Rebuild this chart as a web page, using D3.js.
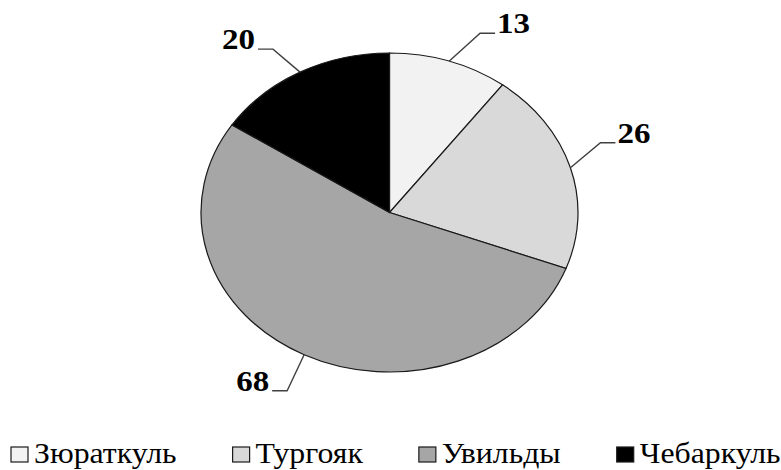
<!DOCTYPE html>
<html>
<head>
<meta charset="utf-8">
<script src="https://cdn.jsdelivr.net/npm/d3@7"></script>
<style>
  body { margin: 0; background: #fff; }
  text { font-family: "Liberation Serif", "Times New Roman", Tinos, "DejaVu Serif", serif; fill: #000; }
</style>
</head>
<body>
<svg id="chart" width="781" height="470"></svg>
<script>
// Lakes and their counts, clockwise from 12 o'clock
const lakes = ["Зюраткуль", "Тургояк", "Увильды", "Чебаркуль"];
const counts = [13, 26, 68, 20];
const fills = ["#f2f2f2", "#d9d9d9", "#a6a6a6", "#000000"];

// Leader-line elbows, as offsets from each slice's rim midpoint
const elbowOffsets = [[31, -28], [30, -25], [-17, 36], [-27, -23]];

const cx = 389.5, cy = 212.5;
const ry = 159.5, rx = 188.5;
const sx = rx / ry; // the whole drawing is widened horizontally

const svg = d3.select("#chart");

const slices = d3.pie().sort(null).value(d => d)(counts);
const arc = d3.arc().innerRadius(0).outerRadius(ry);

const pieG = svg.append("g")
  .attr("transform", `translate(${cx},${cy}) scale(${sx},1)`);

pieG.selectAll("path")
  .data(slices)
  .join("path")
  .attr("d", arc)
  .attr("fill", (d, i) => fills[i])
  .attr("stroke", "#1a1a1a")
  .attr("stroke-width", 1.2)
  .attr("vector-effect", "non-scaling-stroke");

// Value labels with elbow leader lines
const labelG = svg.append("g");
slices.forEach((d, i) => {
  const a = (d.startAngle + d.endAngle) / 2;
  const px = cx + rx * Math.sin(a);
  const py = cy - ry * Math.cos(a);
  const ex = px + elbowOffsets[i][0];
  const ey = py + elbowOffsets[i][1];
  const right = elbowOffsets[i][0] > 0;
  const hx = ex + (right ? 15 : -15);
  labelG.append("path")
    .attr("d", `M${px},${py}L${ex},${ey}L${hx},${ey}`)
    .attr("fill", "none")
    .attr("stroke", "#404040")
    .attr("stroke-width", 1.4);
  labelG.append("text")
    .attr("transform", `translate(${hx + (right ? 2 : -3)},${ey}) scale(1.1,1)`)
    .attr("text-anchor", right ? "start" : "end")
    .attr("font-size", 30)
    .attr("font-weight", "bold")
    .text(d.data);
});

// Legend row
const legendG = svg.append("g");
const lsx = 1.06;
let lx = 11;
const ly = 463;
lakes.forEach((name, i) => {
  legendG.append("rect")
    .attr("x", lx).attr("y", ly - 16)
    .attr("width", 17).attr("height", 15)
    .attr("fill", fills[i])
    .attr("stroke", "#1a1a1a")
    .attr("stroke-width", 1.2);
  const t = legendG.append("text")
    .attr("transform", `translate(${lx + 23},${ly}) scale(${lsx},1)`)
    .attr("font-size", 30)
    .text(name);
  lx += 23 + t.node().getComputedTextLength() * lsx + 56;
});
</script>
</body>
</html>
